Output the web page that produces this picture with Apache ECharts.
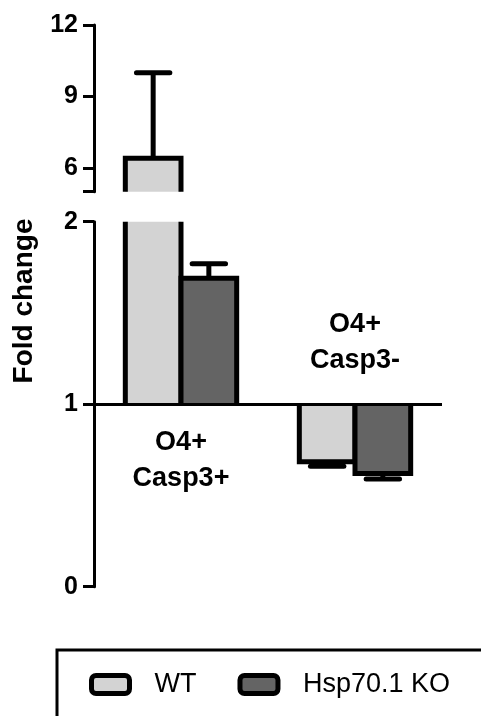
<!DOCTYPE html>
<html><head><meta charset="utf-8">
<script src="https://cdn.jsdelivr.net/npm/echarts@6/dist/echarts.min.js"></script>
<style>html,body{margin:0;padding:0;background:#fff}#c{width:481px;height:716px}</style>
</head><body><div id="c"></div>
<script>
// ---- data ----
const categories = ['O4+\nCasp3+', 'O4+\nCasp3-'];
const seriesNames = ['WT', 'Hsp70.1 KO'];
const wtMean = [6.4, 0.685];
const wtSem = [3.6, 0.025];
const koMean = [1.69, 0.62];
const koSem = [0.08, 0.03];
const lowerTicks = [0, 1, 2];
const upperTicks = [6, 9, 12];
const upperTickMarks = [5, 6, 9, 12];
const baseline = 1;
const yTitle = 'Fold change';
// ---- style ----
const FONT = '"Liberation Sans", Arial, sans-serif';
const colors = ['#d3d3d3', '#646464'];
const LOWER = [0, 2], UPPER = [5, 12];

function barSeries(name, mean, sem, color, side, gi, range) {
  const yMin = range[0], yMax = range[1];
  return {
    type: 'custom', name: name, xAxisIndex: gi, yAxisIndex: gi,
    data: mean.map((m, i) => [i, m, sem[i]]),
    encode: { x: 0, y: 1 },
    itemStyle: { color: color },
    renderItem: function (params, api) {
      const i = api.value(0), v = api.value(1), s = api.value(2);
      const dir = v >= baseline ? 1 : -1;
      const e = v + dir * s;
      const catW = api.size([1, 0])[0];
      const bw = catW * 0.32;
      const cx = api.coord([i, yMin])[0] + side * bw / 2;
      const x1 = cx - bw / 2, x2 = cx + bw / 2;
      const Y = val => api.coord([i, val])[1];
      const clamp = val => Math.max(yMin, Math.min(yMax, val));
      const inRange = val => val >= yMin && val <= yMax;
      const children = [];
      const eLo = Math.min(v, e), eHi = Math.max(v, e);
      if (eHi > yMin && eLo < yMax) {
        children.push({ type: 'line', shape: { x1: cx, y1: Y(clamp(v)), x2: cx, y2: Y(clamp(e)) },
          style: { stroke: '#000', lineWidth: 5 } });
        if (inRange(e)) children.push({ type: 'line',
          shape: { x1: cx - bw * 0.3, y1: Y(e), x2: cx + bw * 0.3, y2: Y(e) },
          style: { stroke: '#000', lineWidth: 5, lineCap: 'round' } });
      }
      const lo = Math.min(baseline, v), hi = Math.max(baseline, v);
      if (hi > yMin && lo < yMax) {
        const yb = Y(clamp(baseline)), yv = Y(clamp(v));
        children.push({ type: 'rect', shape: { x: x1, y: Math.min(yb, yv), width: bw, height: Math.abs(yb - yv) },
          style: { fill: color } });
        if (inRange(v)) {
          children.push({ type: 'polyline', shape: { points: [[x1, yb], [x1, yv], [x2, yv], [x2, yb]] },
            style: { stroke: '#000', fill: null, lineWidth: 5, lineJoin: 'miter' } });
        } else {
          children.push({ type: 'line', shape: { x1: x1, y1: yb, x2: x1, y2: yv }, style: { stroke: '#000', lineWidth: 5 } });
          children.push({ type: 'line', shape: { x1: x2, y1: yb, x2: x2, y2: yv }, style: { stroke: '#000', lineWidth: 5 } });
        }
      }
      return { type: 'group', children: children };
    }
  };
}

const axisCommon = {
  axisLine: { show: true, lineStyle: { color: '#000', width: 3 } },
  axisTick: { show: true, length: 11, lineStyle: { color: '#000', width: 3 } },
  axisLabel: { color: '#000', fontSize: 25, fontWeight: 'bold', fontFamily: FONT, margin: 16 },
  splitLine: { show: false }
};

const chart = echarts.init(document.getElementById('c'), null, { renderer: 'canvas' });
chart.setOption({
  animation: false,
  backgroundColor: '#fff',
  grid: [
    { left: 94, right: 39, top: 25, height: 166.7 },
    { left: 94, right: 39, top: 221.7, height: 365 }
  ],
  xAxis: [
    { type: 'category', gridIndex: 0, data: categories, show: false },
    { type: 'category', gridIndex: 1, data: categories, show: false }
  ],
  yAxis: [
    Object.assign({}, axisCommon, { type: 'value', gridIndex: 0, min: UPPER[0], max: UPPER[1],
      axisTick: Object.assign({}, axisCommon.axisTick, { customValues: upperTickMarks }),
      axisLabel: Object.assign({}, axisCommon.axisLabel, { customValues: upperTicks }) }),
    Object.assign({}, axisCommon, { type: 'value', gridIndex: 1, min: LOWER[0], max: LOWER[1],
      axisTick: Object.assign({}, axisCommon.axisTick, { customValues: lowerTicks }),
      axisLabel: Object.assign({}, axisCommon.axisLabel, { customValues: lowerTicks }) })
  ],
  legend: {
    data: [
      { name: seriesNames[0], itemStyle: { color: colors[0], borderColor: '#000', borderWidth: 5 } },
      { name: seriesNames[1], itemStyle: { color: colors[1], borderColor: '#000', borderWidth: 5 } }
    ],
    left: 57, top: 650, width: 440, orient: 'horizontal', icon: 'roundRect',
    itemWidth: 38, itemHeight: 18, itemGap: 41,
    padding: [21, 60, 60, 32], borderColor: '#000', borderWidth: 3,
    textStyle: { fontSize: 27, color: '#000', fontFamily: FONT, padding: [0, 0, 0, 20] },
    selectedMode: false
  },
  graphic: [{
    type: 'text', x: 24, y: 301, rotation: Math.PI / 2,
    style: { text: yTitle, fill: '#000', font: 'bold 28px ' + FONT, align: 'center', verticalAlign: 'middle' }
  }],
  series: [
    barSeries(seriesNames[0], wtMean, wtSem, colors[0], -1, 0, UPPER),
    barSeries(seriesNames[1], koMean, koSem, colors[1], 1, 0, UPPER),
    barSeries(seriesNames[0], wtMean, wtSem, colors[0], -1, 1, LOWER),
    barSeries(seriesNames[1], koMean, koSem, colors[1], 1, 1, LOWER),
    {
      type: 'custom', name: 'labels', xAxisIndex: 1, yAxisIndex: 1,
      data: categories.map((c, i) => [i, baseline, wtMean[i]]),
      encode: { x: 0, y: 1 },
      renderItem: function (params, api) {
        const i = api.value(0);
        const up = api.value(2) >= baseline;
        const p = api.coord([i, baseline]);
        return { type: 'text', x: p[0], y: up ? p[1] + 20 : p[1] - 26,
          style: { text: categories[i], fill: '#000', font: 'bold 27px ' + FONT,
            align: 'center', verticalAlign: up ? 'top' : 'bottom', lineHeight: 36 } };
      },
      markLine: {
        silent: true, symbol: ['none', 'none'], label: { show: false },
        lineStyle: { color: '#000', width: 3, type: 'solid' },
        data: [{ yAxis: baseline }]
      }
    }
  ]
});
</script></body></html>
